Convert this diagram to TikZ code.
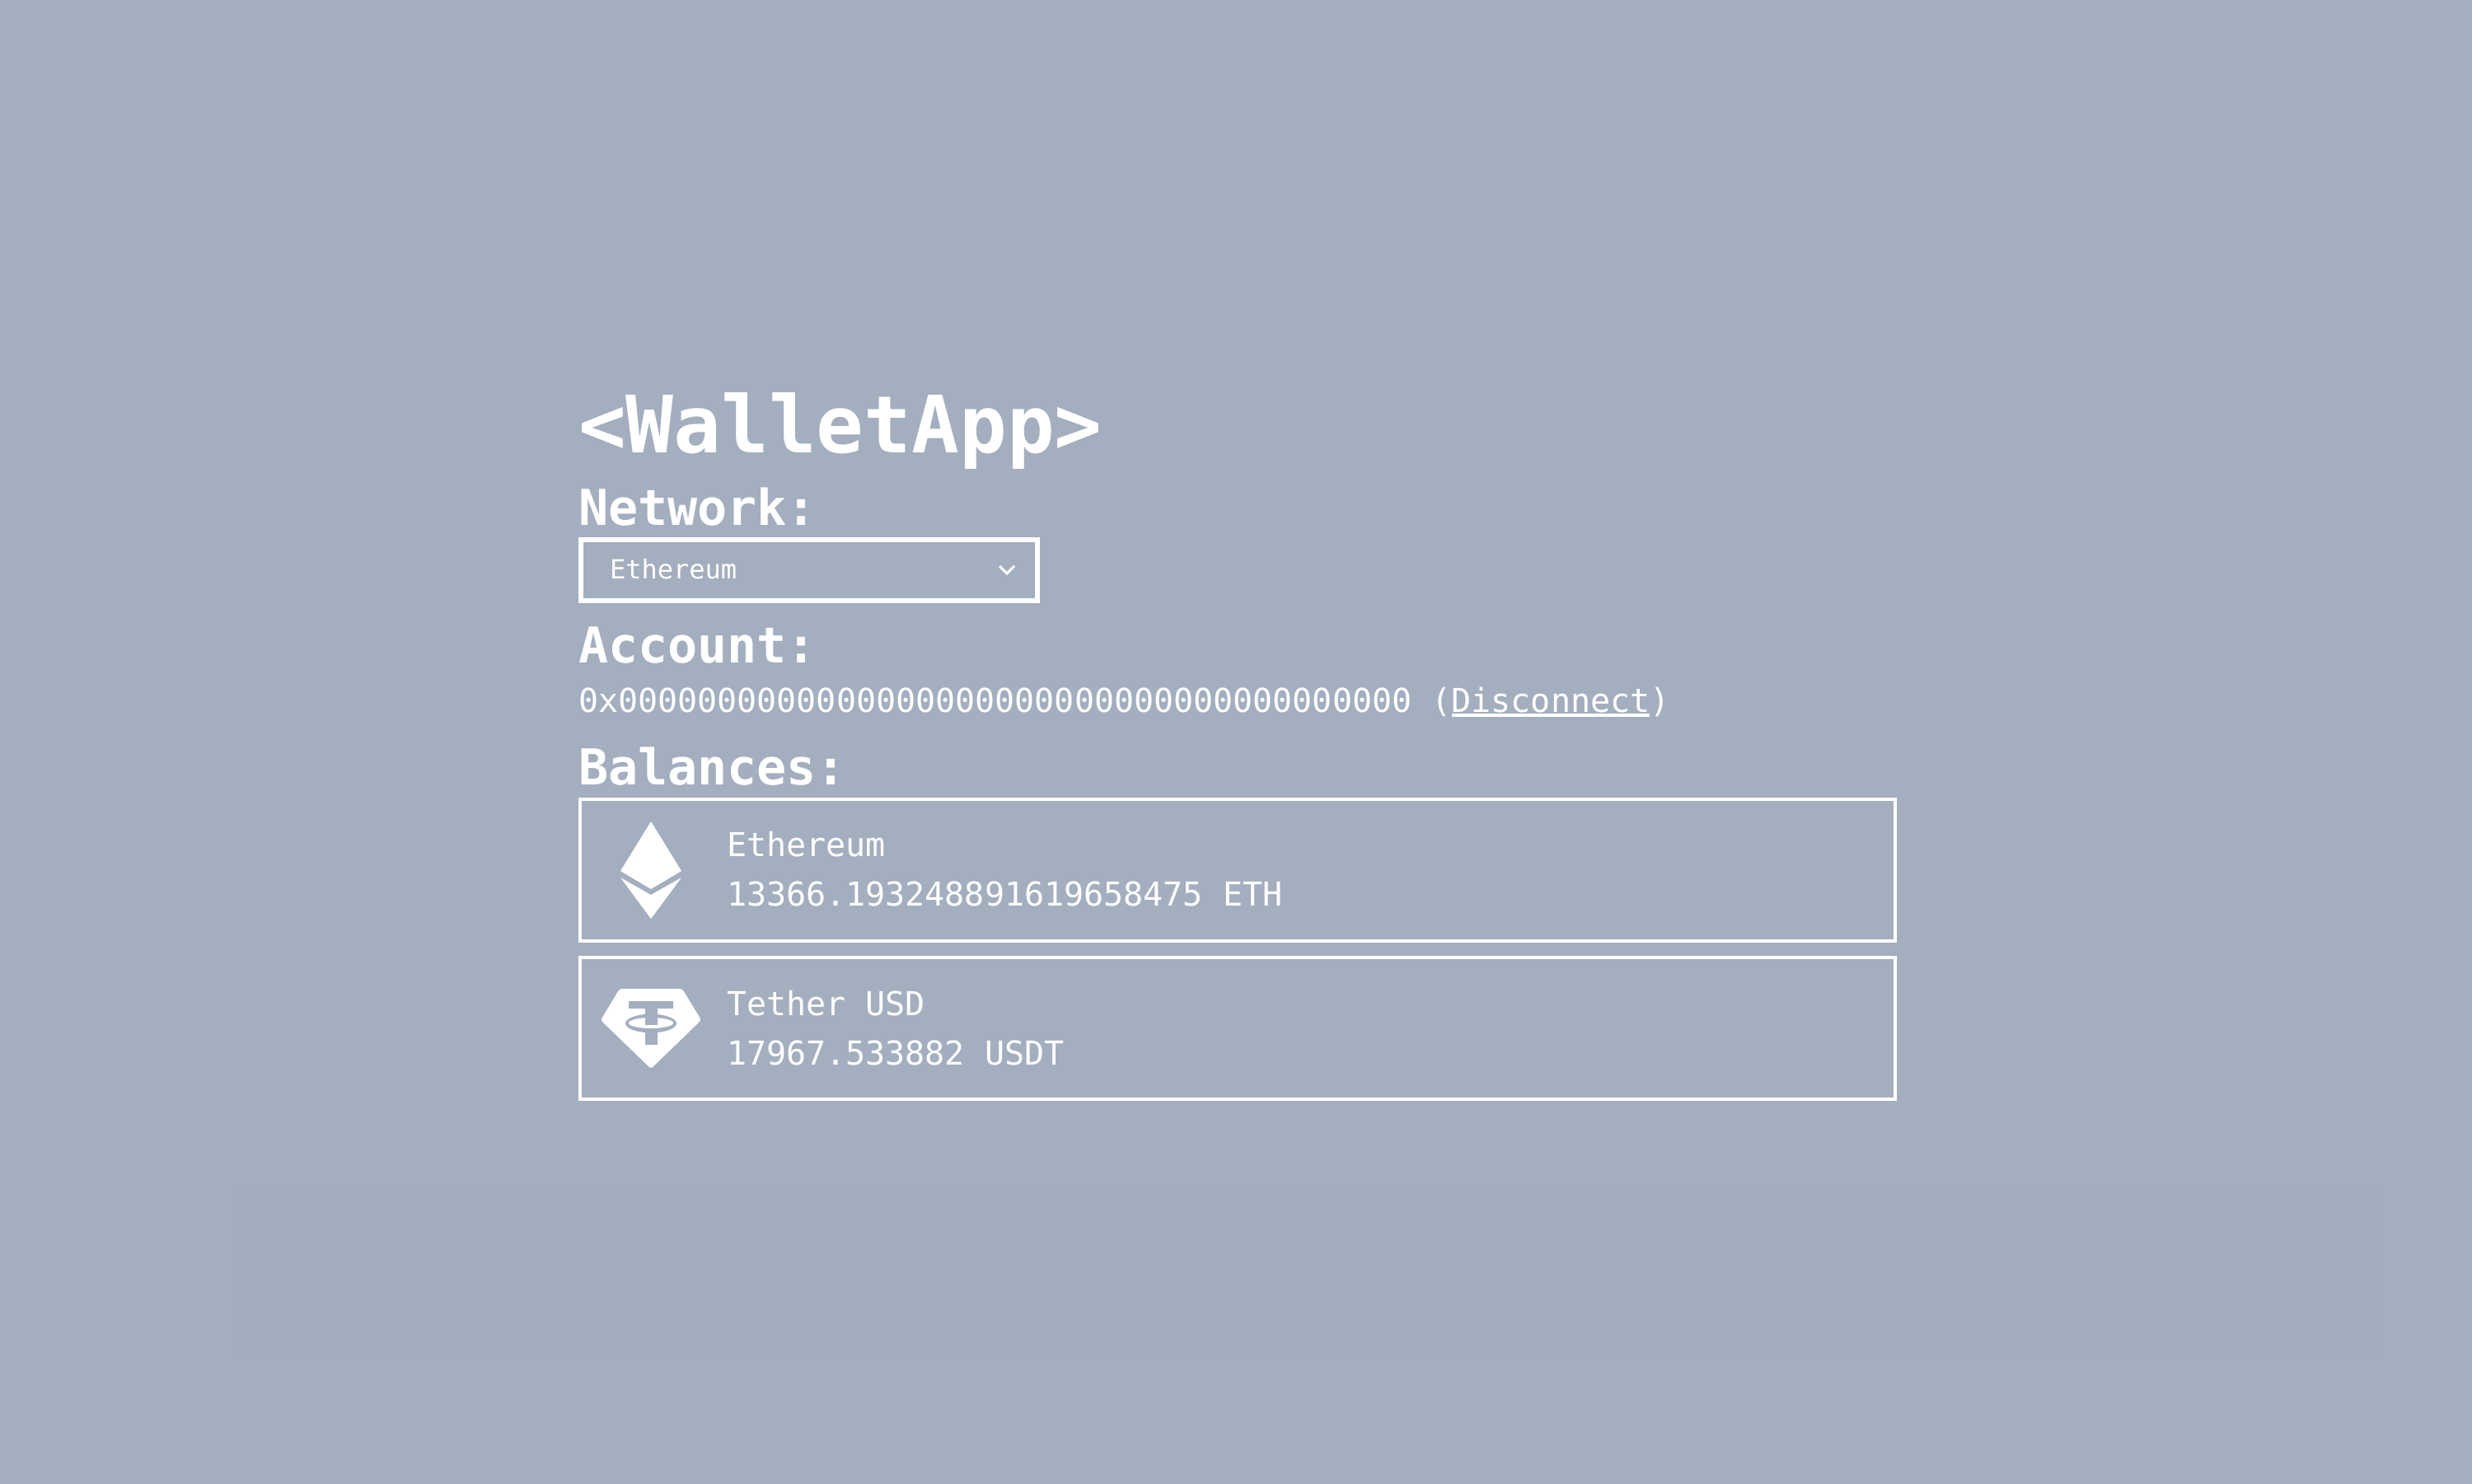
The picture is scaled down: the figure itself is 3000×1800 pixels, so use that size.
\documentclass[tikz,border=0pt]{standalone}
\usepackage{fontspec}
\setmainfont{DejaVu Sans Mono}
\definecolor{pagebg}{HTML}{A3AFBF}
\definecolor{bandbg}{HTML}{A3ADBE}
\newcommand{\fs}[1]{\fontsize{#1}{#1}\selectfont}
\tikzset{
  lbl/.style={anchor=base west,inner sep=0pt,outer sep=0pt,text=white},
  title/.style={lbl,font=\fs{96}\bfseries},
  head/.style={lbl,font=\fs{60}\bfseries},
  body/.style={lbl,font=\fs{40}},
  small/.style={lbl,font=\fs{32}},
  card/.style={draw=white,line width=4pt,rectangle,minimum width=1596pt,minimum height=172pt,inner sep=0pt},
  selectbox/.style={draw=white,line width=6pt,rectangle,minimum width=554pt,minimum height=74pt,inner sep=0pt},
  icon/.style={fill=white,draw=none},
  hole/.style={fill=pagebg,draw=none}
}
\begin{document}
\begin{tikzpicture}[x=1pt,y=-1pt]
\useasboundingbox (0,0) rectangle (3000,1800);
\fill[pagebg] (-5,-5) rectangle (3005,1805);
\fill[bandbg] (283,1437) rectangle (2891,1646);
\node[title] (apptitle) at (702,549) {<WalletApp>};
\node[head] (network) at (702,637) {Network:};
\node[selectbox] (netselect) at (982,692) {};
\node[small] (netvalue) at (740,702) {Ethereum};
\draw[white,line width=3pt] (1213,687) -- (1222,696) -- (1231,687);
\node[head] (account) at (702,804) {Account:};
\node[body] (address) at (702,864) {0x0000000000000000000000000000000000000000 (\rlap{\rule[-5.5pt]{240.8pt}{3.4pt}}Disconnect)};
\node[head] (balances) at (702,952) {Balances:};
\node[card] (ethcard) at (1502,1056) {};
\node[card] (usdtcard) at (1502,1248) {};
\node[body] (ethname) at (882,1039) {Ethereum};
\node[body] (ethvalue) at (882,1099) {13366.193248891619658475 ETH};
\node[body] (usdtname) at (882,1232) {Tether USD};
\node[body] (usdtvalue) at (882,1292) {17967.533882 USDT};
% Ethereum icon
\fill[icon] (790,997) -- (827,1057) -- (790,1079) -- (753,1057) -- cycle;
\fill[icon] (753,1065) -- (790,1086) -- (827,1065) -- (790,1115) -- cycle;
% Tether icon
\fill[icon,rounded corners=3pt] (752,1200) -- (828,1200) -- (851,1238) -- (790,1297) -- (729,1238) -- cycle;
\fill[hole] (763,1215) rectangle (817,1224);
\fill[hole] (783,1224) rectangle (798,1268);
\fill[hole] (790,1242) ellipse [x radius=31,y radius=11.3];
\fill[icon] (790,1241.5) ellipse [x radius=27,y radius=6.5];
\fill[hole] (783,1224) rectangle (798,1244);
\end{tikzpicture}
\end{document}
